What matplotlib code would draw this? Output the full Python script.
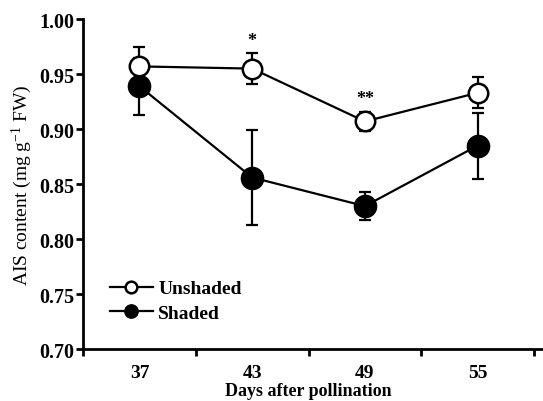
import matplotlib.pyplot as plt
import numpy as np
from matplotlib.ticker import FixedLocator

plt.rcParams["font.family"] = ["Liberation Serif", "DejaVu Serif"]
plt.rcParams["mathtext.fontset"] = "custom"
plt.rcParams["mathtext.rm"] = "Liberation Serif"
plt.rcParams["mathtext.it"] = "Liberation Serif:italic"
plt.rcParams["mathtext.bf"] = "Liberation Serif:bold"

days = ["37", "43", "49", "55"]
unshaded = [0.957, 0.955, 0.907, 0.933]
unshaded_err = [0.018, 0.014, 0.009, 0.014]
shaded = [0.939, 0.856, 0.830, 0.885]
shaded_err = [0.026, 0.043, 0.013, 0.030]
stars = {"43": "*", "49": "**"}

x = np.arange(len(days))

fig = plt.figure(figsize=(5.43, 4.02), dpi=100)
ax = fig.add_axes([0.153, 0.129, 0.847, 0.821])

ax.errorbar(x, unshaded, yerr=unshaded_err, fmt="none", ecolor="black",
            elinewidth=1.6, capsize=4, capthick=1.6, zorder=1)
ax.errorbar(x, shaded, yerr=shaded_err, fmt="none", ecolor="black",
            elinewidth=1.6, capsize=4, capthick=1.6, zorder=1)
ax.plot(x, unshaded, "-o", color="black", mfc="white", mec="black", mew=1.8,
        ms=14, lw=1.6, zorder=3, label="Unshaded")
ax.plot(x, shaded, "-o", color="black", mfc="black", mec="black",
        ms=16, lw=1.6, zorder=2, label="Shaded")

for i, d in enumerate(days):
    if d in stars:
        top = unshaded[i] + unshaded_err[i]
        ax.text(x[i], top + 0.004, stars[d], ha="center", va="bottom",
                fontsize=13, fontweight="bold")

ax.set_xlim(-0.5, 3.58)
ax.set_ylim(0.70, 1.00)
ax.set_yticks(np.arange(0.70, 1.001, 0.05))
ax.set_yticklabels([f"{v:.2f}" for v in np.arange(0.70, 1.001, 0.05)],
                   fontsize=14.5, fontweight="bold")
ax.xaxis.set_major_locator(FixedLocator(np.arange(-0.5, 3.6, 1.0)))
ax.set_xticklabels([])
for i, d in enumerate(days):
    ax.text(x[i], -0.045, d, transform=ax.get_xaxis_transform(), ha="center",
            va="top", fontsize=14, fontweight="bold")

ax.spines["top"].set_visible(False)
ax.spines["right"].set_visible(False)
ax.spines["left"].set_linewidth(2)
ax.spines["bottom"].set_linewidth(2)
ax.tick_params(axis="both", direction="out", length=5, width=2)
ax.tick_params(axis="y", pad=1)

ax.set_ylabel("AIS content (mg g$^{-1}$ FW)", fontsize=14, labelpad=4)
ax.text(0.5 * (x[1] + x[2]), -0.1, "Days after pollination",
        transform=ax.get_xaxis_transform(), ha="center", va="top",
        fontsize=13, fontweight="bold")

leg = ax.legend(loc="lower left", bbox_to_anchor=(0.02, 0.03), frameon=False,
                markerscale=0.6, handlelength=2.2,
                handletextpad=0.3, labelspacing=0.35,
                prop={"weight": "bold", "size": 14})

plt.savefig("out.png", dpi=100)
plt.close()
